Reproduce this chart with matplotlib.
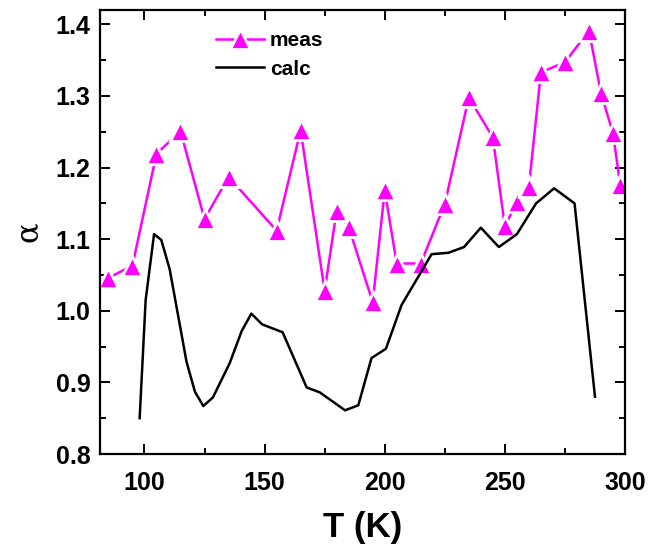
import matplotlib
matplotlib.use("Agg")
import matplotlib.pyplot as plt
from matplotlib.ticker import MultipleLocator

# ---- data ----
meas_T = [85, 95, 105, 115, 125, 135, 155, 165, 175, 180, 185, 195, 200, 205,
          215, 225, 235, 245, 250, 255, 260, 265, 275, 285, 290, 295, 298]
meas_a = [1.046, 1.063, 1.219, 1.251, 1.128, 1.187, 1.112, 1.252, 1.028, 1.140,
          1.117, 1.012, 1.168, 1.066, 1.066, 1.149, 1.298, 1.242, 1.118, 1.152,
          1.173, 1.333, 1.347, 1.391, 1.304, 1.248, 1.176]

calc_T = [98, 100.5, 104, 107, 110.5, 117.5, 121, 124.5, 128.5, 135.5, 140.5,
          144.5, 149, 157.5, 167.5, 173, 183.5, 189, 194.5, 200.5, 207, 219.5,
          226.5, 233, 240, 247.5, 255, 263, 270.5, 279, 287.5]
calc_a = [0.850, 1.015, 1.107, 1.099, 1.058, 0.929, 0.887, 0.867, 0.879, 0.927,
          0.972, 0.996, 0.981, 0.970, 0.893, 0.886, 0.861, 0.868, 0.934, 0.947,
          1.008, 1.079, 1.081, 1.089, 1.116, 1.089, 1.107, 1.150, 1.171, 1.150,
          0.880]

x_ticks = [100, 150, 200, 250, 300]
y_ticks = [0.8, 0.9, 1.0, 1.1, 1.2, 1.3, 1.4]
series_labels = ["meas", "calc"]
x_label = "T (K)"
y_label = "\u03b1"

FONT = ["Liberation Sans", "DejaVu Sans"]
plt.rcParams["font.family"] = FONT

fig = plt.figure(figsize=(6.48, 5.44), dpi=100)
ax = fig.add_axes([100 / 648, 1 - 454 / 544, 525 / 648, 444 / 544])

ax.plot(meas_T, meas_a, color="#FF00FF", lw=1.8, marker="^", ms=14,
        mfc="#FF00FF", mec="white", mew=2.0, label=series_labels[0], zorder=2)
ax.plot(calc_T, calc_a, color="black", lw=1.8, label=series_labels[1], zorder=3)

ax.set_xlim(81.5, 300)
ax.set_ylim(0.8, 1.42)
ax.set_xticks(x_ticks)
ax.set_yticks(y_ticks)
ax.set_yticklabels([f"{v:.1f}" for v in y_ticks])
ax.xaxis.set_minor_locator(MultipleLocator(25))
ax.yaxis.set_minor_locator(MultipleLocator(0.05))

for s in ax.spines.values():
    s.set_linewidth(1.6)
ax.tick_params(which="both", direction="in", top=True, right=True, width=1.4)
ax.tick_params(which="major", length=7)
ax.tick_params(axis="x", which="major", pad=12)
ax.tick_params(axis="y", which="major", pad=7)
ax.tick_params(which="minor", length=4)
for lab in ax.get_xticklabels() + ax.get_yticklabels():
    lab.set_fontsize(18)
    lab.set_fontweight("bold")

ax.set_xlabel(x_label, fontsize=25, fontweight="bold", labelpad=12)
ax.set_ylabel(y_label, fontsize=22, labelpad=8, family="DejaVu Serif")

leg = ax.legend(loc="upper left", bbox_to_anchor=(0.193, 0.985), frameon=False,
                prop={"size": 15, "weight": "bold"}, handlelength=2.3,
                handletextpad=0.3, labelspacing=0.45, borderpad=0.2)

fig.savefig("out.png", dpi=100)
